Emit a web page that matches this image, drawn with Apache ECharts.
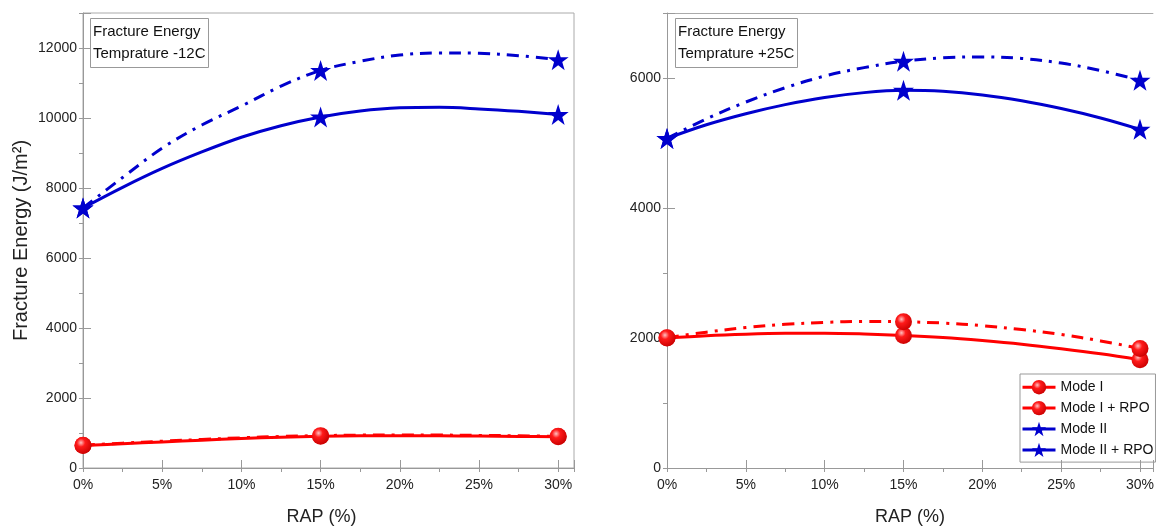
<!DOCTYPE html>
<html>
<head>
<meta charset="utf-8">
<script src="https://cdn.jsdelivr.net/npm/echarts@6/dist/echarts.min.js"></script>
<style>html,body{margin:0;padding:0;background:#fff;}#c{width:1157px;height:531px;}</style>
</head>
<body>
<div id="c"></div>
<script>
// Measured points (markers)
const rap = [0, 15, 30];
const m1L = [640, 905, 890];
const m1rL = [650, 925, 905];
const m2L = [7430, 10030, 10100];
const m2rL = [7430, 11360, 11667];
const m1R = [2000, 2040, 1665];
const m1rR = [2005, 2250, 1840];
const m2R = [5070, 5810, 5210];
const m2rR = [5070, 6258, 5964];
// Fitted curves
const curveX = [0, 2.5, 5, 7.5, 10, 12.5, 15, 17.5, 20, 22.5, 25, 27.5, 30];
const m1LCurve = [640, 695, 745, 795, 840, 880, 905, 918, 922, 920, 912, 902, 890];
const m1rLCurve = [650, 710, 765, 815, 862, 900, 925, 940, 945, 942, 932, 920, 905];
const m2LCurve = [7430, 8020, 8560, 9030, 9450, 9780, 10030, 10200, 10290, 10305, 10260, 10190, 10100];
const m2rLCurve = [7430, 8300, 9140, 9800, 10340, 10910, 11360, 11620, 11800, 11860, 11850, 11780, 11667];
const m1RCurve = [2000, 2035, 2058, 2072, 2074, 2062, 2040, 2007, 1960, 1904, 1835, 1757, 1665];
const m1rRCurve = [2005, 2090, 2160, 2210, 2240, 2255, 2250, 2230, 2190, 2130, 2055, 1955, 1840];
const m2RCurve = [5070, 5280, 5450, 5590, 5700, 5775, 5810, 5795, 5740, 5650, 5530, 5385, 5210];
const m2rRCurve = [5070, 5370, 5630, 5850, 6030, 6160, 6258, 6310, 6325, 6300, 6230, 6115, 5964];
const xTicks = [0, 5, 10, 15, 20, 25, 30];
const names = ['Mode I', 'Mode I + RPO', 'Mode II', 'Mode II + RPO'];
const panelTitles = ['Fracture Energy\nTemprature -12C', 'Fracture Energy\nTemprature +25C'];

const FONT = "'Liberation Sans', Arial, sans-serif";
const RED = '#ff0000';
const BLUE = '#0000cd';
const DASH = [12, 7, 3, 7];
const STAR = 'path://M50,0 L61.8,35.1 L98.9,35.1 L69.1,56.7 L80.3,91.9 L50,70.2 L19.7,91.9 L30.9,56.7 L1.1,35.1 L38.2,35.1 Z';
const BALL = {type: 'radial', x: 0.38, y: 0.35, r: 0.7, colorStops: [
  {offset: 0, color: '#ffc0c0'}, {offset: 0.35, color: '#ff1a1a'}, {offset: 1, color: '#c80000'}]};

function pairs(xs, ys) { return xs.map((x, i) => [x, ys[i]]); }

const grids = [
  {left: 83, top: 13, width: 491, height: 456, show: true, borderColor: '#aaa', borderWidth: 1},
  {left: 667, top: 13, width: 490, height: 456, show: false}
];

const xAxis = [], yAxis = [];
const yMax = [13000, 7000];
const xMax = [31, 30.82];
[0, 1].forEach(g => {
  xAxis.push({
    gridIndex: g, type: 'value', min: 0, max: xMax[g], interval: 5,
    axisLine: {show: true, lineStyle: {color: '#999', width: 1}},
    axisTick: {show: true, inside: true, length: 8, lineStyle: {color: '#999'}},
    splitLine: {show: false},
    axisLabel: {margin: 10, fontSize: 14, color: '#222', fontFamily: FONT,
      formatter: v => (xTicks.indexOf(v) >= 0 ? v + '%' : '')},
    name: 'RAP (%)', nameLocation: 'middle', nameGap: 40,
    nameTextStyle: {fontSize: 18, color: '#222', fontFamily: FONT, padding: g === 0 ? [0, 14, 0, 0] : [0, 0, 0, 0]}
  });
  xAxis.push({
    gridIndex: g, type: 'value', min: 0, max: xMax[g], interval: 2.5,
    axisLine: {show: false}, axisLabel: {show: false}, splitLine: {show: false},
    axisTick: {show: true, inside: true, length: 4, lineStyle: {color: '#999'}}
  });
  yAxis.push({
    gridIndex: g, type: 'value', min: 0, max: yMax[g], interval: 2000,
    axisLine: {show: true, lineStyle: {color: '#999', width: 1}},
    axisTick: {show: true, inside: true, length: 8, lineStyle: {color: '#999'}},
    splitLine: {show: false},
    axisLabel: {margin: 6, fontSize: 14, color: '#222', fontFamily: FONT,
      formatter: v => (v % 2000 === 0 ? String(v) : '')},
    name: g === 0 ? 'Fracture Energy (J/m\u00B2)' : '', nameLocation: 'middle', nameGap: 52,
    nameTextStyle: {fontSize: 20, color: '#222', fontFamily: FONT}
  });
  yAxis.push({
    gridIndex: g, type: 'value', min: 0, max: yMax[g], interval: 1000,
    axisLine: {show: false}, axisLabel: {show: false}, splitLine: {show: false},
    axisTick: {show: true, inside: true, length: 4, lineStyle: {color: '#999'}}
  });
});
// top frame line for the right panel (its right edge runs off the picture)
xAxis.push({
  gridIndex: 1, type: 'value', position: 'top', min: 0, max: xMax[1],
  axisLine: {show: true, onZero: false, lineStyle: {color: '#aaa', width: 1}},
  axisTick: {show: false}, axisLabel: {show: false}, splitLine: {show: false}
});

const series = [];
function addPanel(g, curves, marks) {
  const cfg = [
    {color: RED, dash: 'solid', sym: 'circle', size: 17, fill: BALL},
    {color: RED, dash: DASH, sym: 'circle', size: 17, fill: BALL},
    {color: BLUE, dash: 'solid', sym: STAR, size: 21, fill: BLUE},
    {color: BLUE, dash: DASH, sym: STAR, size: 21, fill: BLUE}
  ];
  cfg.forEach((c, i) => {
    series.push({
      name: names[i] + ' fit ' + g, type: 'line', xAxisIndex: g * 2, yAxisIndex: g * 2,
      data: pairs(curveX, curves[i]), smooth: 0.35, symbol: 'none', silent: true,
      lineStyle: {color: c.color, width: 3, type: c.dash}, z: 2
    });
    series.push({
      name: names[i], type: 'line', xAxisIndex: g * 2, yAxisIndex: g * 2,
      data: pairs(rap, marks[i]), symbol: c.sym, symbolSize: c.size,
      showAllSymbol: true,
      itemStyle: {color: c.fill, borderColor: c.color, borderWidth: 0},
      lineStyle: {opacity: 0, color: c.color, width: 3}, z: 3
    });
  });
}
addPanel(0, [m1LCurve, m1rLCurve, m2LCurve, m2rLCurve], [m1L, m1rL, m2L, m2rL]);
addPanel(1, [m1RCurve, m1rRCurve, m2RCurve, m2rRCurve], [m1R, m1rR, m2R, m2rR]);

const legendColors = [RED, RED, BLUE, BLUE];
const option = {
  animation: false,
  backgroundColor: '#fff',
  textStyle: {fontFamily: FONT},
  grid: grids,
  xAxis: xAxis,
  yAxis: yAxis,
  title: [
    {text: panelTitles[0], left: 90, top: 18, padding: [3, 3, 3, 3],
      borderColor: '#999', borderWidth: 1,
      textStyle: {fontSize: 15, fontWeight: 'normal', lineHeight: 22, color: '#111', fontFamily: FONT}},
    {text: panelTitles[1], left: 675, top: 18, padding: [3, 3, 3, 3],
      borderColor: '#999', borderWidth: 1,
      textStyle: {fontSize: 15, fontWeight: 'normal', lineHeight: 22, color: '#111', fontFamily: FONT}}
  ],
  legend: {
    orient: 'vertical', left: 1020, top: 374,
    borderColor: '#999', borderWidth: 1, padding: [6, 2, 5, 1],
    itemWidth: 33, itemHeight: 18, itemGap: 6.5,
    textStyle: {fontSize: 14, color: '#111', fontFamily: FONT},
    data: names.map((n, i) => ({name: n, lineStyle: {opacity: 1, width: 3, type: 'solid', color: legendColors[i]}}))
  },
  series: series
};
const chart = echarts.init(document.getElementById('c'), null, {renderer: 'canvas'});
chart.setOption(option);
</script>
</body>
</html>
